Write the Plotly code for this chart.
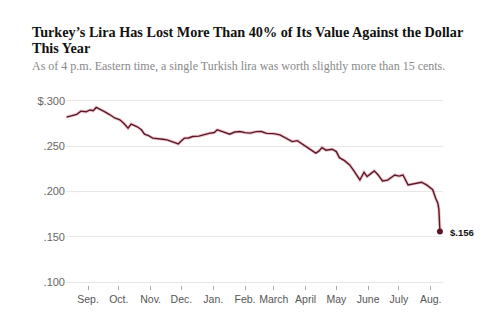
import plotly.graph_objects as go

dates = ["2017-08-11","2017-08-16","2017-08-21","2017-08-25","2017-08-30","2017-09-03","2017-09-06",
         "2017-09-09","2017-09-12","2017-09-17","2017-09-22","2017-09-27","2017-10-02","2017-10-06",
         "2017-10-10","2017-10-13","2017-10-19","2017-10-23","2017-10-26","2017-10-30","2017-11-03",
         "2017-11-08","2017-11-13","2017-11-17","2017-11-23","2017-11-28","2017-12-01","2017-12-04",
         "2017-12-08","2017-12-12","2017-12-18","2017-12-22","2017-12-28","2018-01-02","2018-01-05",
         "2018-01-10","2018-01-13","2018-01-17","2018-01-22","2018-01-27","2018-02-01","2018-02-06",
         "2018-02-12","2018-02-17","2018-02-22","2018-03-01","2018-03-07","2018-03-12","2018-03-16",
         "2018-03-19","2018-03-24","2018-03-29","2018-04-03","2018-04-08","2018-04-11","2018-04-14",
         "2018-04-17","2018-04-21","2018-04-27","2018-05-01","2018-05-04","2018-05-09","2018-05-14",
         "2018-05-18","2018-05-24","2018-05-28","2018-05-31","2018-06-04","2018-06-07","2018-06-11",
         "2018-06-15","2018-06-20","2018-06-24","2018-06-27","2018-07-01","2018-07-05","2018-07-10",
         "2018-07-15","2018-07-20","2018-07-23","2018-07-28","2018-08-03","2018-08-06","2018-08-08",
         "2018-08-09","2018-08-10"]
values = [0.2820,0.2835,0.2850,0.2885,0.2878,0.2898,0.2890,
          0.2926,0.2912,0.2880,0.2848,0.2810,0.2790,0.2750,
          0.2698,0.2743,0.2713,0.2680,0.2632,0.2615,0.2588,
          0.2585,0.2575,0.2569,0.2544,0.2525,0.2560,0.2588,
          0.2590,0.2606,0.2610,0.2624,0.2640,0.2650,0.2680,
          0.2660,0.2645,0.2632,0.2655,0.2661,0.2648,0.2643,
          0.2660,0.2661,0.2640,0.2638,0.2624,0.2595,0.2575,
          0.2550,0.2560,0.2522,0.2490,0.2450,0.2422,0.2445,
          0.2484,0.2455,0.2466,0.2440,0.2373,0.2340,0.2293,
          0.2230,0.2127,0.2212,0.2164,0.2200,0.2227,0.2180,
          0.2116,0.2125,0.2160,0.2182,0.2170,0.2182,0.2072,
          0.2085,0.2100,0.2102,0.2072,0.2020,0.1920,0.1870,
          0.1800,0.1560]

month_ticks = ["2017-09-01","2017-10-01","2017-11-01","2017-12-01","2018-01-01","2018-02-01",
               "2018-03-01","2018-04-01","2018-05-01","2018-06-01","2018-07-01","2018-08-01"]
month_labels = ["Sep.","Oct.","Nov.","Dec.","Jan.","Feb.","March","April","May","June","July","Aug."]
y_ticks = [0.100, 0.150, 0.200, 0.250, 0.300]
y_labels = [".100", ".150", ".200", ".250", "$.300"]
end_label = "$.156"

W, H = 499, 326
L, R, T, B = 66, 56, 98, 41
PW, PH = W - L - R, H - T - B

def px(x, y):
    return (x - L) / PW, (H - B - y) / PH

LINE = "#5a1728"

fig = go.Figure()
fig.add_trace(go.Scatter(x=dates, y=values, mode="lines",
                         line=dict(color="rgba(200,70,90,0.30)", width=3.2),
                         hoverinfo="skip", showlegend=False))
fig.add_trace(go.Scatter(x=dates, y=values, mode="lines",
                         line=dict(color=LINE, width=1.4), showlegend=False))
fig.add_trace(go.Scatter(x=[dates[-1]], y=[values[-1]], mode="markers",
                         marker=dict(color=LINE, size=6), showlegend=False))

annos = []
def text_at(x, y, s, size, color, family, anchor="left", yanchor="middle"):
    xp, yp = px(x, y)
    annos.append(dict(x=xp, y=yp, xref="paper", yref="paper", text=s, showarrow=False,
                      xanchor=anchor, yanchor=yanchor,
                      font=dict(size=size, color=color, family=family)))

text_at(30, 32, "<b>Turkey’s Lira Has Lost More Than 40% of Its Value Against the Dollar</b>", 14.2, "#111", "Liberation Serif")
text_at(30, 48, "<b>This Year</b>", 14.2, "#111", "Liberation Serif")
text_at(30, 66, "As of 4 p.m. Eastern time, a single Turkish lira was worth slightly more than 15 cents.", 12, "#888", "Liberation Serif")

annos.append(dict(x=dates[-1], y=values[-1], xref="x", yref="y", text="<b>" + end_label + "</b>",
                  showarrow=False, xanchor="left", yanchor="middle", xshift=8, yshift=-1,
                  font=dict(size=9.5, color="#111", family="Liberation Sans")))

fig.update_layout(
    width=W, height=H, margin=dict(l=L, r=R, t=T, b=B),
    paper_bgcolor="white", plot_bgcolor="white",
    annotations=annos,
    xaxis=dict(type="date", range=["2017-08-10 12:00", "2018-08-13"],
               tickvals=month_ticks, ticktext=month_labels,
               ticks="outside", ticklen=4, tickwidth=1, tickcolor="#aaa",
               showgrid=False, zeroline=False, showline=False,
               tickfont=dict(size=10.5, color="#555", family="Liberation Sans")),
    yaxis=dict(range=[0.097, 0.303], tickvals=y_ticks, ticktext=y_labels,
               showgrid=True, gridcolor="#e8e8e8", gridwidth=1, zeroline=False,
               showline=False, ticks="",
               tickfont=dict(size=11, color="#666", family="Liberation Sans")),
)

fig.write_html("out.html")
